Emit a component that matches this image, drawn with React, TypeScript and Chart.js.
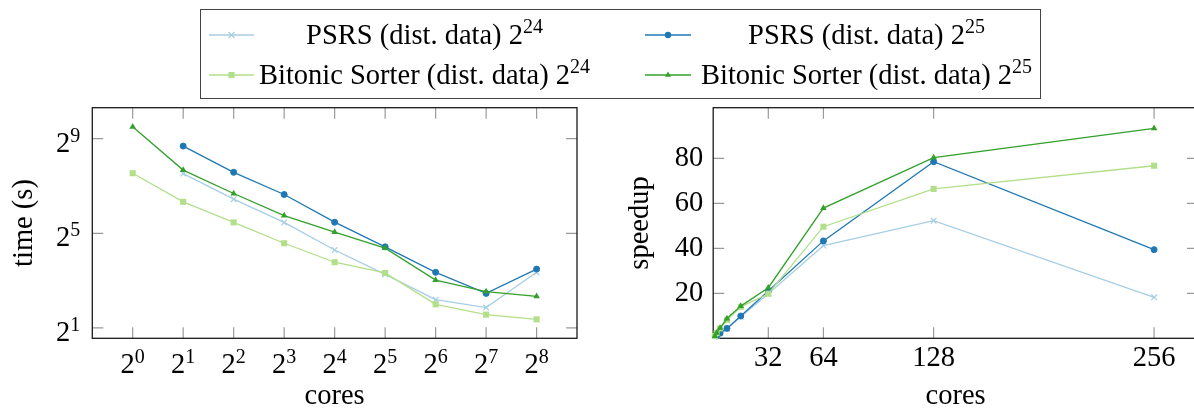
import React, { useEffect, useRef } from 'react';
import { Chart, registerables } from 'chart.js';

Chart.register(...registerables);

// ---------------- data ----------------
const cores = [1, 2, 4, 8, 16, 32, 64, 128, 256];

// time (s), left chart
const psrs24Time = [null, 184, 87, 44, 19.6, 9.6, 4.57, 3.63, 10.2];
const psrs25Time = [null, 412, 191, 99.7, 44.3, 21.5, 10.2, 5.5, 11.2];
const bitonic24Time = [186, 80.5, 44, 23.9, 13.7, 10.0, 3.99, 2.95, 2.57];
const bitonic25Time = [725, 204, 102.7, 53.8, 33.1, 20.7, 8.1, 5.8, 5.03];

// speedup, right chart
const psrs24Speedup = [null, 1.0, 2.2, 4.3, 9.6, 19.8, 41.2, 52.3, 18.2];
const psrs25Speedup = [null, 1.07, 2.3, 4.4, 9.9, 21.0, 43.3, 78.5, 39.4];
const bitonic24Speedup = [1, 2.3, 4.4, 8.1, 14.0, 19.8, 49.6, 66.4, 76.7];
const bitonic25Speedup = [1, 2.4, 4.6, 8.8, 14.3, 22.5, 57.9, 80.3, 93.3];

// ticks
const timeXTickExps = [0, 1, 2, 3, 4, 5, 6, 7, 8];
const timeYTickExps = [1, 5, 9];
const speedXTicks = [32, 64, 128, 256];
const speedYTicks = [20, 40, 60, 80];

// legend
const seriesNames = ['PSRS (dist. data) 2', 'PSRS (dist. data) 2', 'Bitonic Sorter (dist. data) 2', 'Bitonic Sorter (dist. data) 2'];
const seriesExps = ['24', '25', '24', '25'];

// ---------------- styling ----------------
const FONT = "'Liberation Serif', 'Times New Roman', serif";
const FS = 28.5;
const SUP_FS = 20;
const SUP_RAISE = 10;
const TICK_LEN = 11;
const CANVAS_H = 420;

type SeriesStyle = { color: string; pointStyle: string; radius: number; pbw: number; order: number };
const SERIES_STYLES: SeriesStyle[] = [
  { color: '#a6cee3', pointStyle: 'crossRot', radius: 4, pbw: 1.2, order: 4 },
  { color: '#1f78b4', pointStyle: 'circle', radius: 3, pbw: 1, order: 3 },
  { color: '#b2df8a', pointStyle: 'rect', radius: 4.3, pbw: 0, order: 2 },
  { color: '#33a02c', pointStyle: 'triangle', radius: 3.8, pbw: 0, order: 1 },
];

function toPoints(ys: (number | null)[]) {
  return cores
    .map((x, i) => ({ x, y: ys[i] }))
    .filter((p) => p.y !== null && p.y !== undefined) as { x: number; y: number }[];
}

function makeDataset(i: number, ys: (number | null)[]) {
  const s = SERIES_STYLES[i];
  return {
    label: seriesNames[i] + seriesExps[i],
    data: toPoints(ys),
    borderColor: s.color,
    backgroundColor: s.color,
    borderWidth: 1.3,
    pointStyle: s.pointStyle,
    pointRadius: s.radius,
    pointBorderWidth: s.pbw,
    pointBackgroundColor: s.color,
    pointBorderColor: s.color,
    tension: 0,
    fill: false,
    clip: false as any,
    order: s.order,
  };
}

const framePlugin = {
  id: 'frameTicks',
  beforeDatasetsDraw(chart: any) {
    const { ctx, chartArea: a, scales } = chart;
    const x = scales.x;
    const y = scales.y;
    ctx.save();
    ctx.strokeStyle = '#9a9a9a';
    ctx.lineWidth = 1.2;
    ctx.beginPath();
    for (const t of x.ticks) {
      const px = x.getPixelForValue(t.value);
      ctx.moveTo(px, a.bottom);
      ctx.lineTo(px, a.bottom - TICK_LEN);
      ctx.moveTo(px, a.top);
      ctx.lineTo(px, a.top + TICK_LEN);
    }
    for (const t of y.ticks) {
      const py = y.getPixelForValue(t.value);
      ctx.moveTo(a.left, py);
      ctx.lineTo(a.left + TICK_LEN, py);
      ctx.moveTo(a.right, py);
      ctx.lineTo(a.right - TICK_LEN, py);
    }
    ctx.stroke();
    ctx.strokeStyle = '#1a1a1a';
    ctx.lineWidth = 1.3;
    ctx.strokeRect(a.left, a.top, a.right - a.left, a.bottom - a.top);
    ctx.restore();
  },
};

const powLabelsPlugin = {
  id: 'powLabels',
  afterDraw(chart: any) {
    const { ctx, chartArea: a, scales } = chart;
    const x = scales.x;
    const y = scales.y;
    ctx.save();
    ctx.fillStyle = '#000';
    ctx.textBaseline = 'alphabetic';
    ctx.textAlign = 'left';
    const mainFont = `${FS}px ${FONT}`;
    const supFont = `${SUP_FS}px ${FONT}`;
    const draw = (exp: string, px: number, baseY: number, align: 'center' | 'right') => {
      ctx.font = mainFont;
      const w1 = ctx.measureText('2').width;
      ctx.font = supFont;
      const w2 = ctx.measureText(exp).width;
      const total = w1 + w2;
      const left = align === 'center' ? px - total / 2 : px - total;
      ctx.font = mainFont;
      ctx.fillText('2', left, baseY);
      ctx.font = supFont;
      ctx.fillText(exp, left + w1, baseY - SUP_RAISE);
    };
    for (const t of x.ticks) {
      const e = Math.round(Math.log2(t.value));
      draw(String(e), x.getPixelForValue(t.value), a.bottom + 35, 'center');
    }
    for (const t of y.ticks) {
      const e = Math.round(Math.log2(t.value));
      draw(String(e), a.left - 12, y.getPixelForValue(t.value) + 13, 'right');
    }
    ctx.restore();
  },
};

const titleFont = { family: FONT, size: FS };

function TimeChart() {
  const ref = useRef<HTMLCanvasElement | null>(null);
  useEffect(() => {
    if (!ref.current) return;
    const chart = new Chart(ref.current, {
      type: 'line',
      data: {
        datasets: [
          makeDataset(0, psrs24Time),
          makeDataset(1, psrs25Time),
          makeDataset(2, bitonic24Time),
          makeDataset(3, bitonic25Time),
        ] as any,
      },
      options: {
        animation: false,
        responsive: false,
        maintainAspectRatio: false,
        events: [],
        layout: { padding: { top: 107.7, right: 23, left: 0, bottom: 0 } },
        plugins: { legend: { display: false }, tooltip: { enabled: false } },
        scales: {
          x: {
            type: 'logarithmic',
            min: Math.pow(2, -0.8),
            max: Math.pow(2, 8.8),
            bounds: 'data',
            grid: { display: false, drawTicks: false },
            border: { display: false },
            ticks: { display: false },
            afterBuildTicks: (s: any) => {
              s.ticks = timeXTickExps.map((e) => ({ value: Math.pow(2, e) }));
            },
            afterFit: (s: any) => {
              s.height = CANVAS_H - 338.3;
            },
            title: { display: true, text: 'cores', font: titleFont, color: '#000', padding: { top: 0, bottom: 6.4 } },
          },
          y: {
            type: 'logarithmic',
            min: Math.pow(2, 0.56),
            max: Math.pow(2, 10.31),
            bounds: 'data',
            grid: { display: false, drawTicks: false },
            border: { display: false },
            ticks: { display: false },
            afterBuildTicks: (s: any) => {
              s.ticks = timeYTickExps.map((e) => ({ value: Math.pow(2, e) }));
            },
            afterFit: (s: any) => {
              s.width = 92.3;
            },
            title: { display: true, text: 'time (s)', font: titleFont, color: '#000', padding: { top: 7.9, bottom: 0 } },
          },
        } as any,
      },
      plugins: [framePlugin, powLabelsPlugin],
    } as any);
    return () => chart.destroy();
  }, []);
  return <canvas ref={ref} width={600} height={CANVAS_H} style={{ display: 'block', width: 600, height: CANVAS_H }} />;
}

function SpeedupChart() {
  const ref = useRef<HTMLCanvasElement | null>(null);
  useEffect(() => {
    if (!ref.current) return;
    const chart = new Chart(ref.current, {
      type: 'line',
      data: {
        datasets: [
          makeDataset(0, psrs24Speedup),
          makeDataset(1, psrs25Speedup),
          makeDataset(2, bitonic24Speedup),
          makeDataset(3, bitonic25Speedup),
        ] as any,
      },
      options: {
        animation: false,
        responsive: false,
        maintainAspectRatio: false,
        events: [],
        layout: { padding: { top: 107.7, right: 22, left: 0, bottom: 0 } },
        plugins: { legend: { display: false }, tooltip: { enabled: false } },
        scales: {
          x: {
            type: 'linear',
            min: 0,
            max: 281.5,
            bounds: 'data',
            grid: { display: false, drawTicks: false },
            border: { display: false },
            ticks: { font: { family: FONT, size: FS }, color: '#000', padding: 3.1, autoSkip: false, maxRotation: 0 },
            afterBuildTicks: (s: any) => {
              s.ticks = speedXTicks.map((v) => ({ value: v }));
            },
            afterFit: (s: any) => {
              s.height = CANVAS_H - 338.3;
            },
            title: { display: true, text: 'cores', font: titleFont, color: '#000', padding: { top: 0, bottom: 6.4 } },
          },
          y: {
            type: 'linear',
            min: 0,
            max: 102.5,
            bounds: 'data',
            grid: { display: false, drawTicks: false },
            border: { display: false },
            ticks: { font: { family: FONT, size: FS }, color: '#000', padding: 10, autoSkip: false },
            afterBuildTicks: (s: any) => {
              s.ticks = speedYTicks.map((v) => ({ value: v }));
            },
            afterFit: (s: any) => {
              s.width = 113.2;
            },
            title: { display: true, text: 'speedup', font: titleFont, color: '#000', padding: { top: 23.8, bottom: 0 } },
          },
        } as any,
      },
      plugins: [framePlugin],
    } as any);
    return () => chart.destroy();
  }, []);
  return <canvas ref={ref} width={620} height={CANVAS_H} style={{ display: 'block', width: 620, height: CANVAS_H }} />;
}

function Marker({ style, color }: { style: string; color: string }) {
  switch (style) {
    case 'crossRot':
      return <path d="M-3,-3L3,3M-3,3L3,-3" stroke={color} strokeWidth={1.2} fill="none" />;
    case 'circle':
      return <circle r={3.2} fill={color} />;
    case 'rect':
      return <rect x={-3} y={-3} width={6} height={6} fill={color} />;
    default:
      return <polygon points="0,-3.5 3.03,1.75 -3.03,1.75" fill={color} />;
  }
}

const LEG_COLS = [
  { lineL: 209, lineR: 254, textC: 424.5 },
  { lineL: 645, lineR: 691, textC: 866.5 },
];
const LEG_BASELINES = [45, 85];

function Legend() {
  return (
    <div style={{ position: 'absolute', left: 0, top: 0, width: 1194, height: 110, pointerEvents: 'none' }}>
      <div
        style={{
          position: 'absolute',
          left: 199.5,
          top: 9,
          width: 841.5,
          height: 90,
          border: '1.3px solid #444',
          boxSizing: 'border-box',
          background: 'transparent',
        }}
      />
      {seriesNames.map((name, i) => {
        const col = LEG_COLS[i % 2];
        const base = LEG_BASELINES[Math.floor(i / 2)];
        const s = SERIES_STYLES[i];
        const lineY = base - 10.5;
        const w = col.lineR - col.lineL;
        return (
          <React.Fragment key={i}>
            <svg
              width={w}
              height={12}
              style={{ position: 'absolute', left: col.lineL, top: lineY - 6, overflow: 'visible' }}
            >
              <line x1={0} y1={6} x2={w} y2={6} stroke={s.color} strokeWidth={1.5} />
              <g transform={`translate(${w / 2},6)`}>
                <Marker style={s.pointStyle} color={s.color} />
              </g>
            </svg>
            <div
              style={{
                position: 'absolute',
                left: col.textC - 250,
                width: 500,
                top: base - 29.6,
                height: 40,
                lineHeight: '40px',
                fontFamily: FONT,
                fontSize: FS,
                textAlign: 'center',
                color: '#000',
                whiteSpace: 'nowrap',
              }}
            >
              {name}
              <span style={{ fontSize: SUP_FS, position: 'relative', top: -11 }}>{seriesExps[i]}</span>
            </div>
          </React.Fragment>
        );
      })}
    </div>
  );
}

export default function App() {
  return (
    <div
      style={{
        position: 'fixed',
        left: 0,
        top: 0,
        width: 1194,
        height: 409,
        overflow: 'hidden',
        background: '#fff',
      }}
    >
      <div style={{ position: 'absolute', left: 0, top: 0, width: 600, height: CANVAS_H }}>
        <TimeChart />
      </div>
      <div style={{ position: 'absolute', left: 600, top: 0, width: 620, height: CANVAS_H }}>
        <SpeedupChart />
      </div>
      <Legend />
    </div>
  );
}
